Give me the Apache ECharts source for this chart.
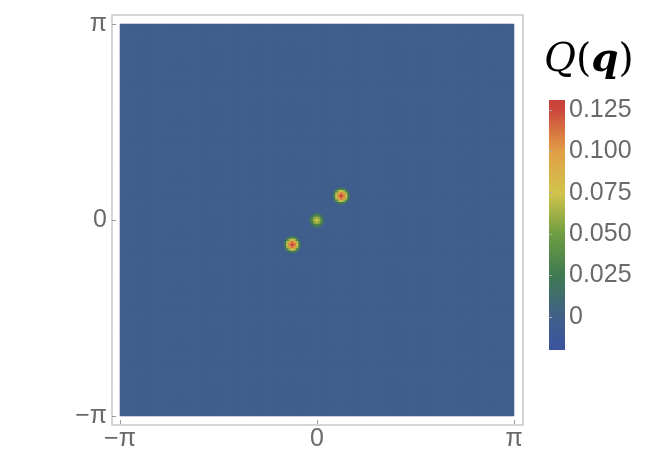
<!DOCTYPE html>
<html>
<head>
<meta charset="utf-8">
<script src="https://cdn.jsdelivr.net/npm/echarts@6/dist/echarts.min.js"></script>
<style>html,body{margin:0;padding:0;background:#fff}#c{width:646px;height:452px}</style>
</head>
<body>
<div id="c"></div>
<script>
// ---- data ----
const cellsPerSide = 161;                       // sampling grid over [-pi, pi]
const backgroundValue = -0.002;                 // flat background level
const spotCenters = [[-0.39, -0.39], [0, 0], [0.39, 0.39]];  // (qx, qy) in rad
const spotPatchOf = ['outer', 'center', 'outer'];
// 9x9 patches of Q values around each spot (rows dy=-4..4, cols dx=-4..4)
const outerPatch = [
  [-0.003,-0.005,-0.006,-0.006,-0.006,-0.006,-0.006,-0.005,-0.003],
  [-0.005,-0.006, 0.005, 0.020, 0.028, 0.020, 0.005,-0.006,-0.005],
  [-0.006, 0.005, 0.035, 0.065, 0.075, 0.065, 0.035, 0.005,-0.006],
  [-0.006, 0.020, 0.065, 0.100, 0.112, 0.100, 0.065, 0.020,-0.006],
  [-0.006, 0.028, 0.075, 0.112, 0.130, 0.112, 0.075, 0.028,-0.006],
  [-0.006, 0.020, 0.065, 0.100, 0.112, 0.100, 0.065, 0.020,-0.006],
  [-0.006, 0.005, 0.035, 0.065, 0.075, 0.065, 0.035, 0.005,-0.006],
  [-0.005,-0.006, 0.005, 0.020, 0.028, 0.020, 0.005,-0.006,-0.005],
  [-0.003,-0.005,-0.006,-0.006,-0.006,-0.006,-0.006,-0.005,-0.003]
];
const centerPatch = [
  [-0.002,-0.003,-0.005,-0.005,-0.005,-0.005,-0.005,-0.003,-0.002],
  [-0.003,-0.004,-0.002, 0.005, 0.008, 0.005,-0.002,-0.004,-0.003],
  [-0.005,-0.002, 0.012, 0.028, 0.035, 0.028, 0.012,-0.002,-0.005],
  [-0.005, 0.005, 0.028, 0.055, 0.064, 0.055, 0.028, 0.005,-0.005],
  [-0.005, 0.008, 0.035, 0.064, 0.074, 0.064, 0.035, 0.008,-0.005],
  [-0.005, 0.005, 0.028, 0.055, 0.064, 0.055, 0.028, 0.005,-0.005],
  [-0.005,-0.002, 0.012, 0.028, 0.035, 0.028, 0.012,-0.002,-0.005],
  [-0.003,-0.004,-0.002, 0.005, 0.008, 0.005,-0.002,-0.004,-0.003],
  [-0.002,-0.003,-0.005,-0.005,-0.005,-0.005,-0.005,-0.003,-0.002]
];
const colorbarTicks = [0, 0.025, 0.05, 0.075, 0.1, 0.125];
const colorbarRange = [-0.02, 0.131];
const colorStopValues = [-0.025, 0, 0.025, 0.05, 0.075, 0.1, 0.125, 0.15];
const colorStopColors = ['#3a4fa5', '#42608a', '#3f7a52', '#6f9d42', '#d2c44c', '#e19f46', '#cc463c', '#bf2f36'];

// ---- build heatmap table ----
const step = 2 * Math.PI / cellsPerSide;
const field = [];
for (let j = 0; j < cellsPerSide; j++) { field.push(new Array(cellsPerSide).fill(backgroundValue)); }
const patches = { outer: outerPatch, center: centerPatch };
spotCenters.forEach((c, k) => {
  const ci = Math.round((c[0] + Math.PI) / step - 0.5);
  const cj = Math.round((c[1] + Math.PI) / step - 0.5);
  const p = patches[spotPatchOf[k]];
  const h = (p.length - 1) / 2;
  for (let r = 0; r < p.length; r++) for (let s = 0; s < p[r].length; s++) {
    field[cj + r - h][ci + s - h] = p[r][s];
  }
});
const cells = [];
for (let j = 0; j < cellsPerSide; j++) for (let i = 0; i < cellsPerSide; i++) cells.push([i, j, field[j][i]]);
const idx = Array.from({ length: cellsPerSide }, (_, i) => i);

function hexToRgb(h) { return [parseInt(h.slice(1,3),16), parseInt(h.slice(3,5),16), parseInt(h.slice(5,7),16)]; }
function colorAt(v) {
  const vs = colorStopValues, cs = colorStopColors;
  if (v <= vs[0]) return cs[0];
  for (let k = 1; k < vs.length; k++) {
    if (v <= vs[k]) {
      const t = (v - vs[k-1]) / (vs[k] - vs[k-1]);
      const a = hexToRgb(cs[k-1]), b = hexToRgb(cs[k]);
      return 'rgb(' + a.map((x, n) => Math.round(x + (b[n] - x) * t)).join(',') + ')';
    }
  }
  return cs[cs.length - 1];
}
const barStops = [];
const span = colorbarRange[1] - colorbarRange[0];
barStops.push({ offset: 0, color: colorAt(colorbarRange[0]) });
colorStopValues.forEach(v => { if (v > colorbarRange[0] && v < colorbarRange[1]) barStops.push({ offset: (v - colorbarRange[0]) / span, color: colorAt(v) }); });
barStops.push({ offset: 1, color: colorAt(colorbarRange[1]) });

const piFmt = v => { const k = Math.round(v / Math.PI); return k === 0 ? '0' : (k < 0 ? '\u2212\u03c0' : '\u03c0'); };
const labelFont = { fontFamily: 'Liberation Sans', fontSize: 25, color: '#6a6a6a' };

const chart = echarts.init(document.getElementById('c'), null, { renderer: 'canvas' });
chart.setOption({
  animation: false,
  backgroundColor: '#ffffff',
  grid: [
    { left: 120, top: 24, width: 394, height: 394, show: true, borderWidth: 0, backgroundColor: colorAt(backgroundValue) },
    { left: 549, top: 100, width: 16, height: 250 }
  ],
  xAxis: [
    { type: 'category', gridIndex: 0, data: idx, show: false },
    { type: 'value', gridIndex: 0, min: -Math.PI, max: Math.PI, interval: Math.PI, offset: 8, position: 'bottom',
      axisLine: { show: false }, splitLine: { show: false },
      axisTick: { inside: true, length: 4, lineStyle: { color: '#999999' } },
      axisLabel: Object.assign({ formatter: piFmt, margin: 3 }, labelFont) },
    { type: 'value', gridIndex: 1, min: 0, max: 1, show: false }
  ],
  yAxis: [
    { type: 'category', gridIndex: 0, data: idx, show: false },
    { type: 'value', gridIndex: 0, min: -Math.PI, max: Math.PI, interval: Math.PI, offset: 8, position: 'left',
      axisLine: { show: false }, splitLine: { show: false },
      axisTick: { inside: true, length: 4, lineStyle: { color: '#999999' } },
      axisLabel: Object.assign({ formatter: piFmt, margin: 5 }, labelFont) },
    { type: 'value', gridIndex: 1, min: colorbarRange[0], max: colorbarRange[1], position: 'right',
      axisLine: { show: false }, splitLine: { show: false },
      axisTick: { show: true, length: 3, customValues: colorbarTicks, lineStyle: { color: '#aaaaaa' } },
      axisLabel: Object.assign({ customValues: colorbarTicks, margin: 4,
        formatter: v => (Math.abs(v) < 1e-9 ? '0' : v.toFixed(3)) }, labelFont) }
  ],
  visualMap: {
    type: 'continuous', show: false, seriesIndex: 0,
    min: colorStopValues[0], max: colorStopValues[colorStopValues.length - 1],
    inRange: { color: colorStopColors }
  },
  series: [{
    type: 'heatmap', xAxisIndex: 0, yAxisIndex: 0, data: cells,
    progressive: 0, emphasis: { disabled: true }, itemStyle: { borderWidth: 0 }
  }],
  graphic: [
    { type: 'rect', silent: true, shape: { x: 112, y: 15, width: 411, height: 410 },
      style: { fill: 'none', stroke: '#c8c8c8', lineWidth: 1.5 } },
    { type: 'rect', silent: true, shape: { x: 549, y: 100, width: 16, height: 250 },
      style: { fill: new echarts.graphic.LinearGradient(0, 1, 0, 0, barStops) }, z: -1 },
    { type: 'text', left: 544, top: 41, silent: true,
      style: {
        text: '{q|Q}{p|(}{b|q}{p|)}',
        rich: {
          q: { fontFamily: 'DejaVu Serif', fontStyle: 'italic', fontSize: 39, fill: '#000' },
          p: { fontFamily: 'DejaVu Serif', fontSize: 39, fill: '#000' },
          b: { fontFamily: 'DejaVu Serif', fontStyle: 'italic', fontWeight: 'bold', fontSize: 39, fill: '#000' }
        }
      } }
  ]
});
</script>
</body>
</html>
